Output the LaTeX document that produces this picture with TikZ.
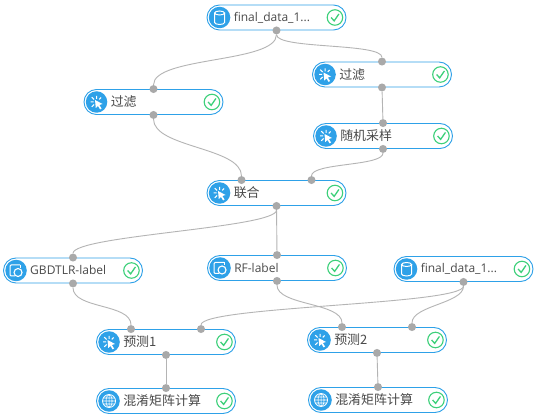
\documentclass[tikz,border=0pt]{standalone}
\usepackage{fontspec}
\setmainfont{Open Sans}
\newfontfamily\cjk[Scale=1.08]{Noto Sans CJK SC}
\definecolor{boxblue}{HTML}{2EA1E8}
\definecolor{okgreen}{HTML}{3DD07A}
\definecolor{portgray}{HTML}{A9A9A9}
\definecolor{linegray}{HTML}{B4B4B4}
\definecolor{labelgray}{HTML}{4A4A4A}
\tikzset{
  flowbox/.style={draw=boxblue, line width=0.9pt, fill=white, rounded corners=12.5pt, minimum width=139pt, minimum height=25pt, inner sep=0pt},
  iconbg/.style={circle, fill=boxblue, minimum size=21.5pt, inner sep=0pt},
  okring/.style={circle, draw=okgreen, line width=1.1pt, minimum size=15.5pt, inner sep=0pt},
  boxlabel/.style={anchor=west, text=labelgray, font=\fontsize{12}{14}\selectfont, inner sep=0pt},
  port/.style={circle, fill=portgray, minimum size=8pt, inner sep=0pt},
  link/.style={draw=linegray, line width=0.9pt},
}
\newcommand{\clicksmark}{
  \fill[white] (-1.5,-2) -- (6,2) -- (2.8,3) -- (5,6.5) -- (3.6,7.4) -- (1.4,4) -- (-0.8,6) -- cycle;
  \draw[white, line width=1pt] (-3,0) -- (-6,0) (-2.5,-2.5) -- (-4.8,-4.8) (0,-3.2) -- (0,-6) (2.6,-2.6) -- (4.5,-4.5) (-2.5,2.5) -- (-4.8,4.8);
}
\newcommand{\datamark}{
  \draw[white, line width=1pt] (-5,-4.5) -- (-5,5) arc[start angle=180, end angle=0, x radius=5, y radius=2] -- (5,-4.5);
  \draw[white, line width=1pt] (0,-4.5) ellipse[x radius=5, y radius=2];
}
\newcommand{\earthmark}{
  \draw[white, line width=0.8pt] (0,0) circle[radius=6.5];
  \draw[white, line width=0.6pt] (0,0) ellipse[x radius=3, y radius=6.5] (0,-6.5) -- (0,6.5) (-6.5,0) -- (6.5,0) (-5.6,-3) -- (5.6,-3) (-5.6,3) -- (5.6,3);
}
\newcommand{\modelmark}{
  \draw[white, line width=1pt, rounded corners=1pt] (4,-5.5) -- (-6,-5.5) -- (-6,5.5) -- (-1,5.5);
  \draw[white, line width=1pt] (4,-5.5) -- (4,-2.5);
  \draw[white, line width=1.1pt] (2,2) circle[radius=4];
}
% name, centre, icon, label
\newcommand{\flownode}[4]{
  \node[flowbox] (#1) at (#2) {};
  \node[iconbg] (#1-icon) at ([xshift=13pt]#1.west) {};
  \begin{scope}[shift={(#1-icon)}] #3 \end{scope}
  \node[boxlabel] (#1-label) at ([xshift=27pt]#1.west) {#4};
  \node[okring] (#1-ok) at ([xshift=-11.5pt]#1.east) {};
  \draw[okgreen, line width=1.3pt] ([shift={(-3.8,0)}]#1-ok.center) -- ([shift={(-0.8,3.4)}]#1-ok.center) -- ([shift={(4,-3.6)}]#1-ok.center);
}
\begin{document}
\begin{tikzpicture}[x=1pt, y=-1pt]
  \useasboundingbox (0,0) rectangle (539,414);
  \fill[white] (0,0) rectangle (539,414);

  \flownode{sourceA}{276.5,17.5}{\datamark}{final\_data\_1...}
  \flownode{filterA}{153.5,102}{\clicksmark}{\cjk 过滤}
  \flownode{filterB}{382,74.5}{\clicksmark}{\cjk 过滤}
  \flownode{sample}{383,136}{\clicksmark}{\cjk 随机采样}
  \flownode{join}{276.5,193}{\clicksmark}{\cjk 联合}
  \flownode{gbdt}{73,270.5}{\modelmark}{GBDTLR-label}
  \flownode{rf}{277,268}{\modelmark}{RF-label}
  \flownode{sourceB}{463.5,269}{\datamark}{final\_data\_1...}
  \flownode{predA}{166,342}{\clicksmark}{\cjk 预测1}
  \flownode{predB}{377,340}{\clicksmark}{\cjk 预测2}
  \flownode{confA}{166,401}{\earthmark}{\cjk 混淆矩阵计算}
  \flownode{confB}{378,400}{\earthmark}{\cjk 混淆矩阵计算}

  % ports
  \node[port] (sourceA-out) at (sourceA.south) {};
  \node[port] (filterA-in) at (filterA.north) {};
  \node[port] (filterA-out) at (filterA.south) {};
  \node[port] (filterB-in) at (filterB.north) {};
  \node[port] (filterB-out) at (filterB.south) {};
  \node[port] (sample-in) at (sample.north) {};
  \node[port] (sample-out) at (sample.south) {};
  \node[port] (join-inA) at ([xshift=-35pt]join.north) {};
  \node[port] (join-inB) at ([xshift=35pt]join.north) {};
  \node[port] (join-out) at (join.south) {};
  \node[port] (gbdt-in) at (gbdt.north) {};
  \node[port] (gbdt-out) at (gbdt.south) {};
  \node[port] (rf-in) at (rf.north) {};
  \node[port] (rf-out) at (rf.south) {};
  \node[port] (sourceB-out) at (sourceB.south) {};
  \node[port] (predA-inA) at ([xshift=-35pt]predA.north) {};
  \node[port] (predA-inB) at ([xshift=35pt]predA.north) {};
  \node[port] (predA-out) at (predA.south) {};
  \node[port] (predB-inA) at ([xshift=-35pt]predB.north) {};
  \node[port] (predB-inB) at ([xshift=35pt]predB.north) {};
  \node[port] (predB-out) at (predB.south) {};
  \node[port] (confA-in) at (confA.north) {};
  \node[port] (confB-in) at (confB.north) {};

  % links
  \draw[link] (sourceA-out) to[out=-90, in=90, looseness=0.55] (filterA-in);
  \draw[link] (sourceA-out) to[out=-90, in=90, looseness=0.35] (filterB-in);
  \draw[link] (filterB-out) -- (sample-in);
  \draw[link] (sample-out) to[out=-90, in=90, looseness=0.45] (join-inB);
  \draw[link] (filterA-out) to[out=-90, in=90, looseness=0.7] (join-inA);
  \draw[link] (join-out) to[out=-90, in=90, looseness=0.22] (gbdt-in);
  \draw[link] (join-out) -- (rf-in);
  \draw[link] (gbdt-out) to[out=-90, in=90, looseness=0.8] (predA-inA);
  \draw[link] (rf-out) to[out=-90, in=90, looseness=0.7] (predB-inA);
  \draw[link] (sourceB-out) to[out=-90, in=90, looseness=0.18] (predA-inB);
  \draw[link] (sourceB-out) to[out=-90, in=90, looseness=0.7] (predB-inB);
  \draw[link] (predA-out) -- (confA-in);
  \draw[link] (predB-out) -- (confB-in);
\end{tikzpicture}
\end{document}
